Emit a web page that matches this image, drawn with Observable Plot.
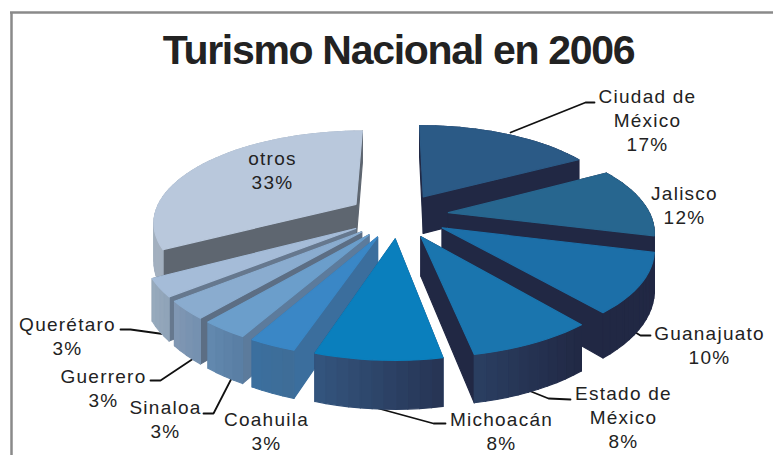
<!DOCTYPE html>
<html><head><meta charset="utf-8">
<script src="https://cdn.jsdelivr.net/npm/d3@7"></script>
<script src="https://cdn.jsdelivr.net/npm/@observablehq/plot@0.6"></script>
<style>
html,body{margin:0;padding:0;background:#fff}
svg text{font-family:"Liberation Sans",Arial,sans-serif}
.lab text{letter-spacing:1.25px}
.ttl text{letter-spacing:-1.3px}
</style></head><body><div id="c"></div>
<script>
// data
const categories=["Ciudad de\nMéxico","Jalisco","Guanajuato","Estado de\nMéxico","Michoacán","Coahuila","Sinaloa","Guerrero","Querétaro","otros"];
const values=[17,12,10,8,8,3,3,3,3,33];
// style
const topColors=["#2b5a86","#27668f","#1c6fa8","#1a75ae","#0a7fbd","#3a87c6","#6b9ecb","#8aaccf","#a5bcd8","#b9c8dc"];
const cutColors=["#212844","#212844","#212844","#212844","#2c4a72","#3b6e9d","#5c7b9c","#5c6e84","#66788e","#5e6670"];
const wallLeft=["#3a5070","#212844","#212844","#2a3f62","#34567f","#3b6f9f","#6389af","#8298b3","#98abbd","#a3b0bf"];
const wallRight=["#212844","#212844","#212844","#212844","#263353","#3e6d97","#597ea3","#7390b0","#8fa3b8","#a3b0bf"];
// layout
const labelAt=[[647,119],[684,204],[709,344],[623,416],[501,430],[266,430],[165,418],[103,387],[67,335],[272,169]];
const leaders=[[[510,132],[585,102],[594,102]],[[635,332],[640,335],[650,335]],[[528,390],[548,398],[570,399]],[[378,408],[433,423],[445,423]],[[231,378],[213,413],[203,413]],[[193,358],[160,380],[150,380]],[[166,334],[130,329],[120,329]]];
const cx=398,cy=215,R=202,kR=90,p=.179,e=.25,D=38;
const proj=(u,v,t)=>{const s=1/(1+p*v);return [cx+R*u*s,cy-kR*v*s+t*D*s];};
const total=d3.sum(values);
const polys=[];let id=0;
const add=(pts,col)=>{id++;pts.forEach(q=>polys.push({x:q[0],y:q[1],id,col}));};
let cum=0;
const slices=values.map((val,i)=>{const a0=cum/total*2*Math.PI;cum+=val;const a1=cum/total*2*Math.PI;return{i,a0,a1,mid:(a0+a1)/2};});
[...slices].sort((a,b)=>Math.cos(b.mid)-Math.cos(a.mid)).forEach(({i,a0,a1,mid})=>{
  const ox=e*Math.sin(mid),oy=e*Math.cos(mid);
  const n=Math.max(3,Math.ceil((a1-a0)/0.05));
  const arc=d3.range(n+1).map(j=>{const a=a0+(a1-a0)*j/n;return [ox+Math.sin(a),oy+Math.cos(a)];});
  const T=q=>proj(q[0],q[1],0),B=q=>proj(q[0],q[1],1);
  const apex=[ox,oy];
  const faces=[];
  faces.push({pts:[T(apex),T(arc[0]),B(arc[0]),B(apex)],col:cutColors[i]});
  faces.push({pts:[T(apex),T(arc[n]),B(arc[n]),B(apex)],col:cutColors[i]});
  const xs=arc.map(q=>T(q)[0]);const xmin=d3.min(xs),xmax=d3.max(xs);
  const ramp=d3.interpolateRgb(wallLeft[i],wallRight[i]);
  for(let j=0;j<n;j++){
    const mx=(xs[j]+xs[j+1])/2;
    faces.push({pts:[T(arc[j]),T(arc[j+1]),B(arc[j+1]),B(arc[j])],col:d3.rgb(ramp((mx-xmin)/(xmax-xmin||1))).formatHex()});
  }
  faces.sort((a,b)=>d3.mean(a.pts,q=>q[1])-d3.mean(b.pts,q=>q[1])).forEach(f=>add(f.pts,f.col));
  add([T(apex),...arc.map(T)],topColors[i]);
});
const labels=categories.map((c,i)=>({t:c+"\n"+values[i]+"%",x:labelAt[i][0],y:labelAt[i][1]}));
const leaderPts=leaders.flatMap((l,k)=>l.map(q=>({x:q[0],y:q[1],k})));
const plot=Plot.plot({width:773,height:455,margin:0,
  x:{domain:[0,773],range:[0,773],axis:null},
  y:{domain:[0,455],range:[0,455],axis:null},
  color:{type:"identity"},
  marks:[
    Plot.ruleX([11],{y1:12,y2:455,stroke:"#8a8a8a",strokeWidth:2.5}),
    Plot.ruleY([12],{x1:10,x2:773,stroke:"#8a8a8a",strokeWidth:2.5}),
    Plot.line(leaderPts,{x:"x",y:"y",z:"k",stroke:"#111",strokeWidth:1.8}),
    Plot.line(polys,{x:"x",y:"y",z:"id",fill:"col",stroke:"col",strokeWidth:1.2,strokeLinejoin:"round",curve:"linear-closed"}),
    Plot.text(labels,{x:"x",y:"y",text:"t",fontSize:19,lineHeight:1.25,fill:"#222",className:"lab"}),
    Plot.text(["Turismo Nacional en 2006"],{x:()=>398,y:()=>50,fontSize:41,fontWeight:"bold",fill:"#222",className:"ttl"})
  ]});
document.getElementById("c").appendChild(plot);
</script></body></html>
